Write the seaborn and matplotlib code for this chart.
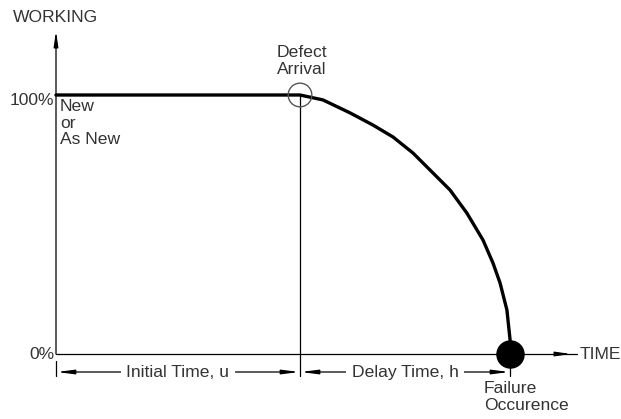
import matplotlib
matplotlib.use("Agg")
import matplotlib.pyplot as plt
import seaborn as sns
import numpy as np

sns.set_theme(style="white")
plt.rcParams['font.family'] = ['Liberation Sans', 'DejaVu Sans']

# ---- data ----
initial_time_u = 10.0          # defect arrival time
delay_time_h = 8.61            # delay until failure
curve_time = [0.0, 10.0, 10.94, 12.05, 12.99, 13.81, 14.63, 15.45, 16.15,
              16.84, 17.50, 17.91, 18.20, 18.48, 18.61, 18.61]
curve_working = [100, 100, 98.1, 93.1, 88.4, 83.8, 77.6, 69.9, 63.3,
                 54.4, 44.0, 35.1, 27.4, 17.0, 5.4, 0]
y_tick_labels = ["100%", "0%"]
y_tick_values = [100, 0]

# ---- layout helpers (pixel -> data) ----
PX_PER_T = 24.4
PX_PER_PCT = 2.59
X0, Y0 = 56, 354
def X(px):
    return (px - X0) / PX_PER_T
def Y(py):
    return (Y0 - py) / PX_PER_PCT

fig = plt.figure(figsize=(6.21, 4.19), dpi=100)
ax = fig.add_axes([0, 0, 1, 1])
ax.set_xlim(X(0), X(621))
ax.set_ylim(Y(419), Y(0))
ax.axis('off')

TXT = '#333333'
FS = 12.6
t_fail = initial_time_u + delay_time_h

head = '-|>,head_length=0.9,head_width=0.13'
# axes lines with arrowheads
ax.annotate('', xy=(0, Y(31)), xytext=(0, 0),
            arrowprops=dict(arrowstyle=head, color='black', lw=0.9,
                            shrinkA=0, shrinkB=0, mutation_scale=10))
ax.plot([0, X(577)], [0, 0], color='black', lw=0.9)
ax.annotate('', xy=(X(571), 0), xytext=(X(560), 0),
            arrowprops=dict(arrowstyle=head, color='black', lw=0.9,
                            shrinkA=0, shrinkB=0, mutation_scale=10))

# vertical line at defect arrival
ax.plot([initial_time_u, initial_time_u], [100, Y(376)], color='black', lw=0.9)
# extension ticks
ax.plot([0, 0], [Y(361), Y(376)], color='black', lw=0.9)
ax.plot([t_fail, t_fail], [Y(363), Y(376)], color='black', lw=0.9)

# the curve
sns.lineplot(x=curve_time, y=curve_working, sort=False, estimator=None,
             color='black', lw=2.4, ax=ax)

# circles
ax.scatter([initial_time_u], [100], s=290, facecolors='none', edgecolors='#555555',
           linewidths=1.0, zorder=5)
ax.scatter([t_fail], [0], s=380, color='black', zorder=6)

# dimension lines
ydim = Y(372)
arrow_kw = dict(arrowstyle='<|-|>,head_length=1.0,head_width=0.13', color='black',
                lw=0.9, shrinkA=0, shrinkB=0, mutation_scale=10)
ax.annotate('', xy=(X(57), ydim), xytext=(X(299), ydim), arrowprops=arrow_kw)
ax.annotate('', xy=(X(301), ydim), xytext=(X(509), ydim), arrowprops=arrow_kw)
ax.text((0 + initial_time_u) / 2, ydim, "Initial Time, u", ha='center', va='center',
        fontsize=FS, color=TXT, zorder=10,
        bbox=dict(facecolor='white', edgecolor='none', pad=4))
ax.text(X(405), ydim, "Delay Time, h", ha='center', va='center',
        fontsize=FS, color=TXT, zorder=10,
        bbox=dict(facecolor='white', edgecolor='none', pad=4))

# texts
ax.text(X(13), Y(18), "WORKING", ha='left', va='center', fontsize=FS, color=TXT)
for lab, val in zip(y_tick_labels, y_tick_values):
    ax.text(X(54), val + (-2.3 if val == 100 else 0), lab, ha='right', va='center',
            fontsize=FS, color=TXT)
ax.text(X(60), Y(99), "New\nor\nAs New", ha='left', va='top', fontsize=FS,
        color=TXT, linespacing=1.13)
ax.text(X(302), Y(61), "Defect\nArrival", ha='center', va='center', fontsize=FS,
        color=TXT, linespacing=1.13)
ax.text(X(484), Y(381), "Failure\nOccurence", ha='left', va='top', fontsize=FS,
        color=TXT, linespacing=1.13)
ax.text(X(580), 0, "TIME", ha='left', va='center', fontsize=FS, color=TXT)

fig.savefig("out.png", dpi=100)
